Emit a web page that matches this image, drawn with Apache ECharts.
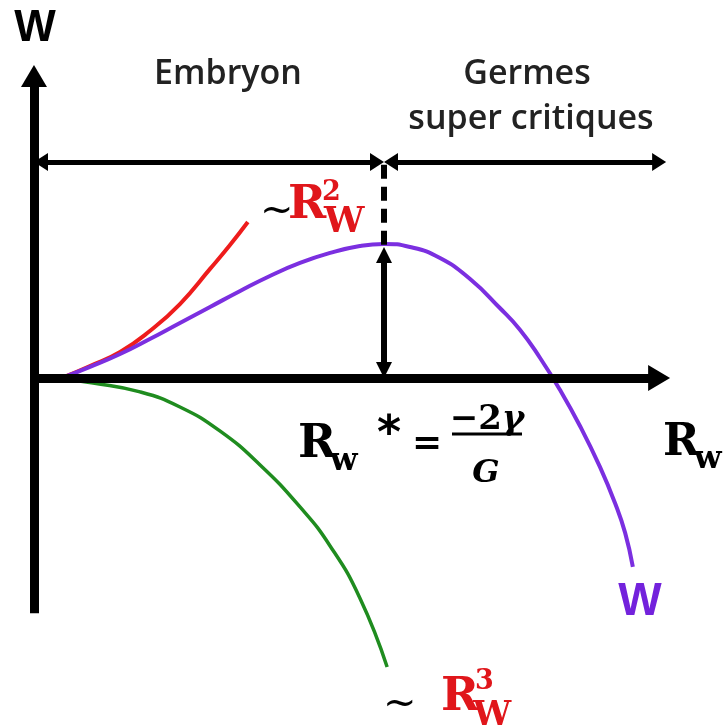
<!DOCTYPE html>
<html lang="fr">

<head>
    <meta charset="UTF-8">
    <title>Germe W(R)</title>
    <script src="https://cdn.jsdelivr.net/npm/echarts@6.0.0/dist/echarts.min.js"></script>
    <style>
        body {
            margin: 0;
            background: #fff;
        }

        .chart {
            width: 727px;
            height: 726px;
        }
    </style>
</head>

<body>
    <div class="chart"></div>
</body>

</html>
<script>
    // rayon (R* = 1) et energie W (W* = 1)
    var wR = [0.080, 0.160, 0.246, 0.331, 0.417, 0.503, 0.589, 0.674, 0.760, 0.846, 0.931, 1.000, 1.074, 1.160, 1.246, 1.331, 1.389, 1.446, 1.503, 1.560, 1.617, 1.660, 1.689, 1.711];
    var wVal = [0, 0.083, 0.180, 0.293, 0.414, 0.534, 0.654, 0.767, 0.865, 0.940, 0.992, 1.008, 0.985, 0.902, 0.744, 0.526, 0.361, 0.150, -0.090, -0.361, -0.669, -0.940, -1.165, -1.421];

    // terme en R^2 (surface)
    var r2R = [0.080, 0.160, 0.246, 0.331, 0.417, 0.503, 0.560, 0.611];
    var r2Val = [0, 0.090, 0.195, 0.353, 0.556, 0.820, 1.000, 1.173];

    // terme en R^3 (volume)
    var r3R = [0.080, 0.169, 0.303, 0.417, 0.531, 0.646, 0.760, 0.846, 0.931, 1.009];
    var r3Val = [-0.008, -0.038, -0.105, -0.218, -0.398, -0.654, -0.970, -1.263, -1.654, -2.173];

    var rStar = 1;
    var wStar = 1;
    var zoneLevel = 1.624; // hauteur des fleches Embryon / Germes

    function pairs(xs, ys) {
        var out = [];
        for (var i = 0; i < xs.length; i++) {
            out.push([xs[i], ys[i]]);
        }
        return out;
    }

    // une fleche entre deux points (en coordonnees du graphe)
    function arrow(a, b, width, headFrom, headTo, type) {
        return [{
            coord: a,
            symbol: headFrom ? 'triangle' : 'none',
            symbolSize: headFrom || 0,
            lineStyle: { width: width, color: '#000', type: type || 'solid' }
        }, {
            coord: b,
            symbol: headTo ? 'triangle' : 'none',
            symbolSize: headTo || 0
        }];
    }

    function txt(str, x, y, font, color, align, rich) {
        return {
            type: 'text',
            x: x,
            y: y,
            silent: true,
            style: {
                text: str,
                font: font,
                fill: color || '#000',
                align: align || 'left',
                verticalAlign: 'middle',
                rich: rich
            }
        };
    }

    function curve(name, xs, ys, width, color) {
        return {
            name: name,
            type: 'line',
            data: pairs(xs, ys),
            smooth: 0.5,
            symbol: 'none',
            lineStyle: { width: width, color: color }
        };
    }

    var serifB = 'bold 46px "DejaVu Serif"';
    var red = '#e0161b';

    var option = {
        animation: false,
        grid: { left: 0, right: 0, top: 0, bottom: 0 },
        xAxis: { type: 'value', min: -0.0971, max: 1.98, show: false },
        yAxis: { type: 'value', min: -2.617, max: 2.842, show: false },
        series: [
            curve('R2', r2R, r2Val, 4, '#ee1c1c'),
            curve('W', wR, wVal, 4, '#7b2fe0'),
            curve('R3', r3R, r3Val, 3.5, '#1f8c1f'),
            {
                name: 'axes',
                type: 'line',
                data: [[0, 0]],
                symbol: 'none',
                lineStyle: { opacity: 0 },
                z: 5,
                markLine: {
                    silent: true,
                    animation: false,
                    label: { show: false },
                    emphasis: { disabled: true },
                    data: [
                        arrow([0, -1.77], [0, 2.27], 9, 0, [26, 22]),
                        arrow([-0.01, 0], [1.786, 0], 9, 0, [26, 22]),
                        arrow([0.02, zoneLevel], [rStar - 0.02, zoneLevel], 5, [18, 14], [18, 14]),
                        arrow([rStar + 0.02, zoneLevel], [1.786, zoneLevel], 5, [18, 14], [18, 14]),
                        arrow([rStar, zoneLevel - 0.02], [rStar, wStar], 6, 0, 0, [14, 8]),
                        arrow([rStar, 0.925], [rStar, 0.06], 6, [16, 16], [16, 16])
                    ]
                }
            }
        ]
    };

    option.graphic = [
        txt('W', 35, 29, 'bold 44px "Liberation Sans"', '#000', 'center'),
        txt('Embryon', 228, 74, '600 34px "Open Sans"', '#222', 'center'),
        txt('Germes', 527, 74, '600 34px "Open Sans"', '#222', 'center'),
        txt('super critiques', 531, 119, '600 34px "Open Sans"', '#222', 'center'),

        txt('~', 260, 212, '40px "DejaVu Serif"'),
        txt('R', 288, 206, serifB, red),
        txt('2', 322, 193, 'bold 27px "DejaVu Serif"', red),
        txt('W', 324, 223, 'bold 36px "DejaVu Serif"', red),

        txt('~', 383, 705, '40px "DejaVu Serif"'),
        txt('R', 441, 698, serifB, red),
        txt('3', 475, 682, 'bold 27px "DejaVu Serif"', red),
        txt('W', 473, 716, 'bold 34px "DejaVu Serif"', red),

        txt('R', 298, 445, serifB),
        txt('w', 330, 462, 'bold 32px "DejaVu Serif"'),
        txt('*', 389, 436, 'bold 46px "DejaVu Sans"', '#000', 'center'),
        txt('=', 427, 445, 'bold 36px "DejaVu Serif"', '#000', 'center'),
        txt('{a|\u22122}{b|\u03b3}', 487, 420, 'bold 34px "DejaVu Serif"', '#000', 'center', {
            a: { font: 'bold 34px "DejaVu Serif"' },
            b: { font: 'italic bold 34px "DejaVu Serif"' }
        }),
        {
            type: 'line',
            silent: true,
            shape: { x1: 452, y1: 434, x2: 522, y2: 434 },
            style: { stroke: '#000', lineWidth: 3 }
        },
        txt('G', 486, 474, 'italic bold 32px "DejaVu Serif"', '#000', 'center'),

        txt('R', 663, 444, 'bold 44px "DejaVu Serif"'),
        txt('w', 694, 460, 'bold 32px "DejaVu Serif"'),

        txt('W', 640, 602, 'bold 46px "Liberation Sans"', '#7322dc', 'center')
    ];

    var myChart = echarts.init(document.querySelector('.chart'));
    myChart.setOption(option);
</script>
